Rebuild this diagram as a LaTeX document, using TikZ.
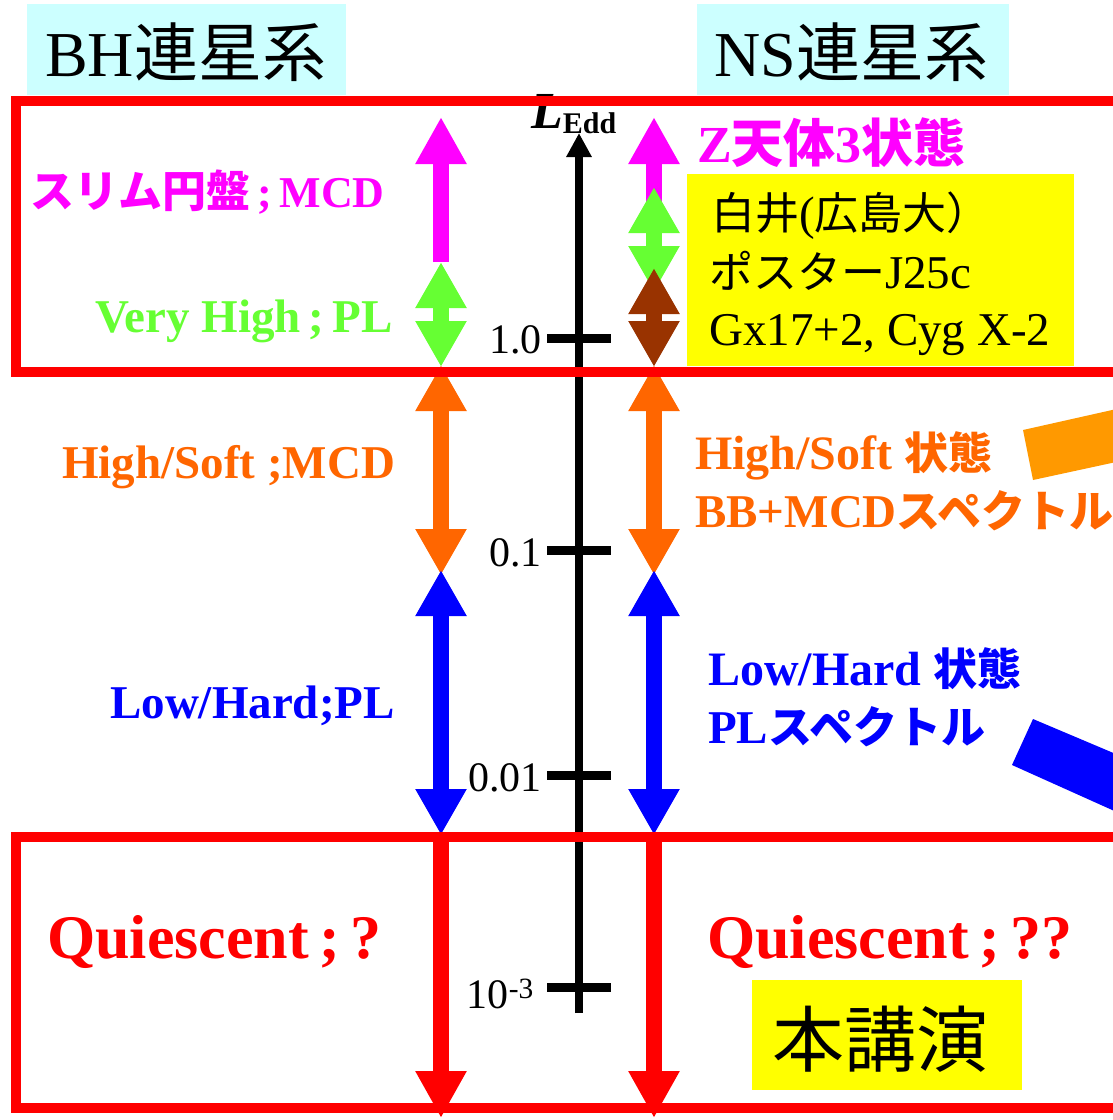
\documentclass[tikz,border=0pt]{standalone}
\usepackage{fontspec}
\setmainfont{Liberation Serif}
\newfontfamily\jp{Noto Sans CJK JP}
\usetikzlibrary{arrows.meta}
\definecolor{mag}{HTML}{FF00FF}
\definecolor{vgreen}{HTML}{66FF33}
\definecolor{hsorange}{HTML}{FF6600}
\definecolor{lhblue}{HTML}{0000FF}
\definecolor{qred}{HTML}{FF0000}
\definecolor{brownz}{HTML}{993300}
\definecolor{cyanbg}{HTML}{CCFFFF}
\definecolor{ybox}{HTML}{FFFF00}
\definecolor{barorange}{HTML}{FF9900}
\newcommand{\J}[1]{{\jp #1}}
\newcommand{\Js}[1]{{\jp\fontsize{44}{44}\selectfont #1}}
\newcommand{\fs}[1]{\fontsize{#1}{#1}\selectfont}
\tikzset{
  fat/.style={line width=16pt},
  uparrow/.style={fat, -{Triangle[width=48pt,length=47pt]}},
  dblarrow/.style={fat, {Triangle[width=48pt,length=46pt]}-{Triangle[width=48pt,length=46pt]}},
  lbl/.style={anchor=base west, inner sep=0pt, font=\bfseries\fs{47}},
  txt/.style={anchor=base west, inner sep=0pt},
  ticklbl/.style={anchor=base east, inner sep=0pt, font=\fs{42}},
  tickline/.style={line width=9pt},
  frame/.style={draw=qred, line width=10pt},
}
\begin{document}
\begin{tikzpicture}[x=1pt, y=-1pt]
\useasboundingbox (0,0) rectangle (1113,1120);
\clip (0,0) rectangle (1113,1120);
\fill[white] (0,0) rectangle (1113,1120);

% header boxes
\fill[cyanbg] (27,4) rectangle (346,95);
\fill[cyanbg] (697,4) rectangle (1009,95);
\node[txt, font=\fs{64}] (bh) at (45,76) {BH\J{連星系}};
\node[txt, font=\fs{64}] (ns) at (714,76) {NS\J{連星系}};

% yellow boxes
\fill[ybox] (687,174) rectangle (1074,366);
\fill[ybox] (752,980) rectangle (1022,1090);

% side bars
\fill[barorange] (1023,430) -- (1130,406) -- (1130,459) -- (1033,480) -- cycle;
\fill[lhblue] (1033,719) -- (1130,760) -- (1130,818) -- (1012,765) -- cycle;

% axis
\coordinate (axB) at (579,1013);
\coordinate (axT) at (579,133);
\draw[line width=8pt, -{Triangle[width=24pt,length=24pt]}] (axB) -- (axT);
\coordinate (t1a) at (547,338);  \coordinate (t1b) at (611,338);
\coordinate (t2a) at (547,550);  \coordinate (t2b) at (611,550);
\coordinate (t3a) at (547,775);  \coordinate (t3b) at (611,775);
\coordinate (t4a) at (547,987);  \coordinate (t4b) at (611,987);
\draw[tickline] (t1a) -- (t1b);
\draw[tickline] (t2a) -- (t2b);
\draw[tickline] (t3a) -- (t3b);
\draw[tickline] (t4a) -- (t4b);
\node[ticklbl] (l1) at (542,353) {1.0};
\node[ticklbl] (l2) at (542,566) {0.1};
\node[ticklbl] (l3) at (542,791) {0.01};
\node[ticklbl] (l4) at (534,1008) {10\textsuperscript{-3}};
\node[txt] (ledd) at (531,128) {\fs{52}\bfseries\itshape L\raisebox{-5pt}{\fs{30}\upshape Edd}};

% BH column
\coordinate (bm1) at (441,262); \coordinate (bm2) at (441,117);
\draw[uparrow, mag] (bm1) -- (bm2);
\coordinate (bg1) at (441,262); \coordinate (bg2) at (441,367);
\draw[dblarrow, vgreen] (bg1) -- (bg2);
\coordinate (bo1) at (441,365); \coordinate (bo2) at (441,575);
\draw[dblarrow, hsorange] (bo1) -- (bo2);
\coordinate (bb1) at (441,570); \coordinate (bb2) at (441,835);
\draw[dblarrow, lhblue] (bb1) -- (bb2);
\coordinate (br1) at (441,837); \coordinate (br2) at (441,1118);
\draw[uparrow, qred] (br1) -- (br2);

% NS column
\coordinate (nm1) at (654,215); \coordinate (nm2) at (654,117);
\draw[uparrow, mag] (nm1) -- (nm2);
\coordinate (ng1) at (654,187); \coordinate (ng2) at (654,292);
\draw[dblarrow, vgreen] (ng1) -- (ng2);
\coordinate (nb1) at (654,268); \coordinate (nb2) at (654,367);
\draw[dblarrow, brownz] (nb1) -- (nb2);
\coordinate (no1) at (654,365); \coordinate (no2) at (654,575);
\draw[dblarrow, hsorange] (no1) -- (no2);
\coordinate (nl1) at (654,570); \coordinate (nl2) at (654,835);
\draw[dblarrow, lhblue] (nl1) -- (nl2);
\coordinate (nr1) at (654,837); \coordinate (nr2) at (654,1118);
\draw[uparrow, qred] (nr1) -- (nr2);

% frames
\draw[frame] (16,101) rectangle (1140,372);
\draw[frame] (16,837) rectangle (1140,1108);

% BH labels
\node[lbl, mag, font=\bfseries\fs{44}] (slim) at (30,207) {\J{スリム円盤}\,;\,MCD};
\node[lbl, vgreen] (vh) at (95,332) {Very High\,;\,PL};
\node[lbl, hsorange] (hs) at (62,478) {High/Soft ;MCD};
\node[lbl, lhblue] (lh) at (110,718) {Low/Hard;PL};
\node[lbl, qred, font=\bfseries\fs{62}] (qbh) at (47,958) {Quiescent\,;\,?};

% NS labels
\node[lbl, mag, font=\bfseries\fs{52}] (zsrc) at (697,162) {Z\J{天体}3\J{状態}};
\node[txt, font=\fs{47}] (y1) at (711,229) {\Js{白井}(\Js{広島大）}};
\node[txt, font=\fs{47}] (y2) at (709,288) {\Js{ポスター}J25c};
\node[txt, font=\fs{47}] (y3) at (709,345) {Gx17+2, Cyg X-2};
\node[lbl, hsorange, font=\bfseries\fs{48}] (hs1) at (695,469) {High/Soft \Js{状態}};
\node[lbl, hsorange] (hs2) at (695,527) {BB+MCD\Js{スペクトル}};
\node[lbl, lhblue, font=\bfseries\fs{48}] (lh1) at (708,685) {Low/Hard \Js{状態}};
\node[lbl, lhblue] (lh2) at (708,743) {PL\Js{スペクトル}};
\node[lbl, qred, font=\bfseries\fs{62}] (qns) at (707,958) {Quiescent\,;\,??};
\node[txt, font=\fs{72}] (talk) at (772,1066) {\J{本講演}};
\end{tikzpicture}
\end{document}
